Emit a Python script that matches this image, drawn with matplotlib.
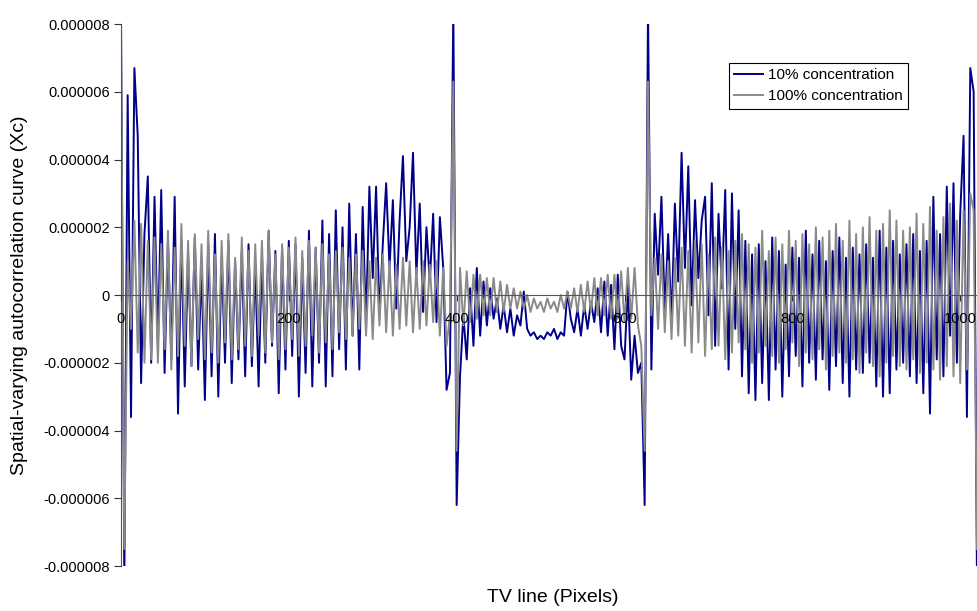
import numpy as np
import matplotlib
matplotlib.use("Agg")
import matplotlib.pyplot as plt
from matplotlib.ticker import FuncFormatter

plt.rcParams['font.family'] = ['Liberation Sans', 'DejaVu Sans']

# sample spacing along the TV line (pixels)
STEP = 4

# 10% concentration, units of 1e-6
conc_10 = [
    8.5, -8.5, 5.9, -3.6, 6.7, 4.7, -2.6, 1.8, 3.5, -2.0,
    2.9, -1.5, 3.1, -2.3, 1.6, -1.9, 2.9, -3.5, 1.6, -2.7,
    1.2, -2.1, 1.7, -2.2, 0.8, -3.1, 1.5, -2.4, 1.8, -3.0,
    1.1, -2.0, 1.6, -2.6, 1.0, -1.9, 1.3, -2.4, 1.5, -2.1,
    0.9, -2.7, 1.2, -2.0, 1.9, -1.5, 1.3, -2.9, 1.4, -2.2,
    1.6, -1.8, 1.5, -3.0, 1.1, -2.3, 1.9, -2.7, 1.4, -2.0,
    2.2, -2.7, 1.8, -2.4, 2.5, -1.6, 2.0, -2.2, 2.7, -1.2,
    1.8, -2.2, 2.6, -0.9, 3.2, 0.5, 3.2, -0.6, 1.5, 3.3,
    0.8, 2.8, -0.4, 2.2, 4.1, 1.0, 2.0, 4.2, 0.6, 2.7,
    -0.5, 2.0, 0.4, 2.4, -0.8, 2.3, 0.8, -2.8, -2.3, 8.5,
    -6.2, -2.4, -0.6, -1.9, 0.2, -1.5, 0.8, -1.2, 0.4, -0.9,
    0.2, -0.7, -0.1, -1.0, -0.3, -1.1, -0.4, -1.2, -0.6, -0.9,
    0.1, -1.0, -1.2, -1.1, -1.3, -1.2, -1.3, -1.1, -1.2, -1.0,
    -1.3, -1.1, -1.2, 0.1, -0.7, -1.1, -0.4, -1.2, -0.3, -1.0,
    -0.2, -0.8, 0.2, -1.1, 0.4, -1.2, 0.3, -1.6, 0.6, -1.5,
    -1.9, 0.3, -2.5, -1.2, -2.3, -2.0, -6.2, 8.5, -2.2, 2.4,
    0.6, 2.9, -0.5, 1.8, -0.8, 2.7, 0.4, 4.2, 0.8, 3.8,
    -0.3, 2.8, 0.5, 2.2, 2.9, -0.6, 3.3, -1.5, 2.4, 0.2,
    3.1, -2.2, 3.0, -1.0, 2.5, -2.4, 1.6, -2.9, 1.2, -3.1,
    1.5, -2.6, 1.0, -3.1, 1.7, -2.2, 1.3, -3.0, 0.9, -2.4,
    1.4, -1.8, 1.1, -2.7, 1.9, -2.0, 1.2, -2.5, 1.6, -1.9,
    1.0, -2.8, 1.3, -2.1, 1.7, -2.6, 1.1, -3.0, 1.4, -2.2,
    1.2, -2.3, 1.5, -2.0, 1.1, -2.7, 1.9, -3.0, 1.4, -2.9,
    1.6, -2.2, 1.2, -2.0, 1.5, -2.4, 1.8, -2.6, 1.3, -2.9,
    1.6, -3.5, 2.9, -1.9, 1.8, -2.4, 3.2, -1.2, 3.3, -2.0,
    2.4, 4.7, -3.6, 6.7, 6.0, -8.5,
]

# 100% concentration, units of 1e-6
conc_100 = [
    8.0, -7.5, 1.0, -1.0, 2.2, -1.7, 2.1, -2.0, 1.6, -1.9,
    1.7, -2.0, 1.5, -1.6, 1.9, -2.2, 1.4, -1.8, 2.1, -1.5,
    1.6, -2.1, 1.8, -1.3, 1.5, -1.9, 1.9, -1.7, 1.2, -2.0,
    1.6, -1.4, 1.8, -1.9, 1.1, -1.6, 1.7, -1.5, 1.3, -1.8,
    1.5, -1.2, 1.6, -1.7, 1.9, -1.4, 1.2, -1.9, 1.5, -1.6,
    1.4, -1.3, 1.7, -1.8, 1.3, -1.5, 1.6, -1.2, 1.4, -1.7,
    1.5, -1.4, 1.2, -1.6, 1.3, -1.1, 1.4, -1.3, 1.1, -1.2,
    1.2, -1.0, 1.3, -1.2, 1.0, -1.3, 1.1, -0.9, 1.2, -1.1,
    1.0, -1.2, 0.9, -1.0, 1.1, -0.9, 1.0, -1.1, 0.8, -1.0,
    1.0, -0.9, 0.9, -0.8, 1.0, -1.2, 0.8, -1.5, -0.6, 6.3,
    -4.6, 0.8, -0.9, 0.7, -0.8, 0.6, -0.7, 0.6, -0.6, 0.5,
    -0.6, 0.5, -0.5, 0.4, -0.5, 0.3, -0.4, 0.2, -0.4, 0.1,
    -0.4, 0.0, -0.5, -0.1, -0.4, -0.2, -0.5, -0.1, -0.4, -0.2,
    -0.5, 0.0, -0.4, 0.1, -0.4, 0.2, -0.5, 0.3, -0.5, 0.4,
    -0.5, 0.5, -0.6, 0.5, -0.6, 0.6, -0.7, 0.6, -0.7, 0.7,
    -0.8, 0.8, -0.7, 0.8, -0.9, -1.5, -4.6, 6.3, -0.6, 1.1,
    -1.0, 1.2, -1.1, 1.0, -1.3, 1.1, -1.2, 1.4, -1.5, 1.3,
    -1.7, 1.6, -1.4, 1.5, -1.8, 1.2, -1.6, 1.7, -1.5, 1.4,
    -1.9, 1.3, -1.7, 1.6, -1.4, 1.8, -1.6, 1.5, -2.0, 1.4,
    -1.7, 1.9, -1.5, 1.3, -1.8, 1.7, -2.0, 1.5, -1.6, 1.9,
    -1.4, 1.6, -2.1, 1.8, -1.7, 1.5, -1.9, 2.0, -1.6, 1.7,
    -2.2, 1.9, -1.8, 2.1, -1.7, 1.6, -2.0, 2.2, -1.9, 1.8,
    -2.3, 2.0, -1.7, 2.3, -2.1, 1.9, -2.4, 2.1, -2.0, 2.5,
    -1.8, 2.2, -2.1, 1.9, -2.2, 2.0, -1.9, 2.4, -2.3, 2.1,
    -2.0, 2.6, -2.2, 1.9, -2.5, 2.3, -2.1, 2.7, -2.4, 2.2,
    -2.6, 2.5, -2.2, 3.0, 2.5, -7.5,
]

x_ticks = [0, 200, 400, 600, 800, 1000]
y_ticks = [-8e-6, -6e-6, -4e-6, -2e-6, 0, 2e-6, 4e-6, 6e-6, 8e-6]

x10 = np.arange(len(conc_10)) * STEP
x100 = np.arange(len(conc_100)) * STEP
y10 = np.array(conc_10) * 1e-6
y100 = np.array(conc_100) * 1e-6

fig = plt.figure(figsize=(9.77, 6.11), dpi=100)
ax = fig.add_axes([0.1238, 0.0736, 0.8762, 0.8871])

ax.plot(x10, y10, color='#000088', lw=1.4, label='10% concentration')
ax.plot(x100, y100, color='#8A8A8A', lw=1.4, label='100% concentration')

ax.set_xlim(0, 1020)
ax.set_ylim(-8e-6, 8e-6)

# axis line and tick labels sit on top of the data, like the original
ax.set_axisbelow(False)
ax.spines['top'].set_visible(False)
ax.spines['right'].set_visible(False)
ax.spines['bottom'].set_position(('data', 0))
ax.spines['bottom'].set_color('#555555')
ax.spines['left'].set_color('#555555')

ax.set_xticks(x_ticks)
ax.set_yticks(y_ticks)


def fmt_y(v, pos):
    if abs(v) < 1e-12:
        return '0'
    return f'{v:.6f}'


ax.yaxis.set_major_formatter(FuncFormatter(fmt_y))
ax.tick_params(axis='y', direction='out', length=5, width=0.8,
               color='#333333', labelsize=10.5, pad=3)
ax.tick_params(axis='x', direction='out', length=4, width=0.8,
               color='#333333', labelsize=10.5, pad=8)
for lbl in ax.get_xticklabels():
    lbl.set_zorder(5)

fig.text(0.566, 1 - 597 / 611, 'TV line (Pixels)', ha='center', va='center',
         fontsize=14)
fig.text(20 / 977, 0.517, 'Spatial-varying autocorrelation curve (Xc)',
         ha='center', va='center', rotation=90, fontsize=14)

leg = ax.legend(loc='upper right', bbox_to_anchor=(908 / 977, 1 - 63 / 611),
                bbox_transform=fig.transFigure, fancybox=False,
                edgecolor='black', framealpha=1, fontsize=11,
                borderaxespad=0, handlelength=1.85, borderpad=0.35,
                labelspacing=0.45, handletextpad=0.35)
leg.get_frame().set_linewidth(0.8)

fig.savefig('out.png', dpi=100)
